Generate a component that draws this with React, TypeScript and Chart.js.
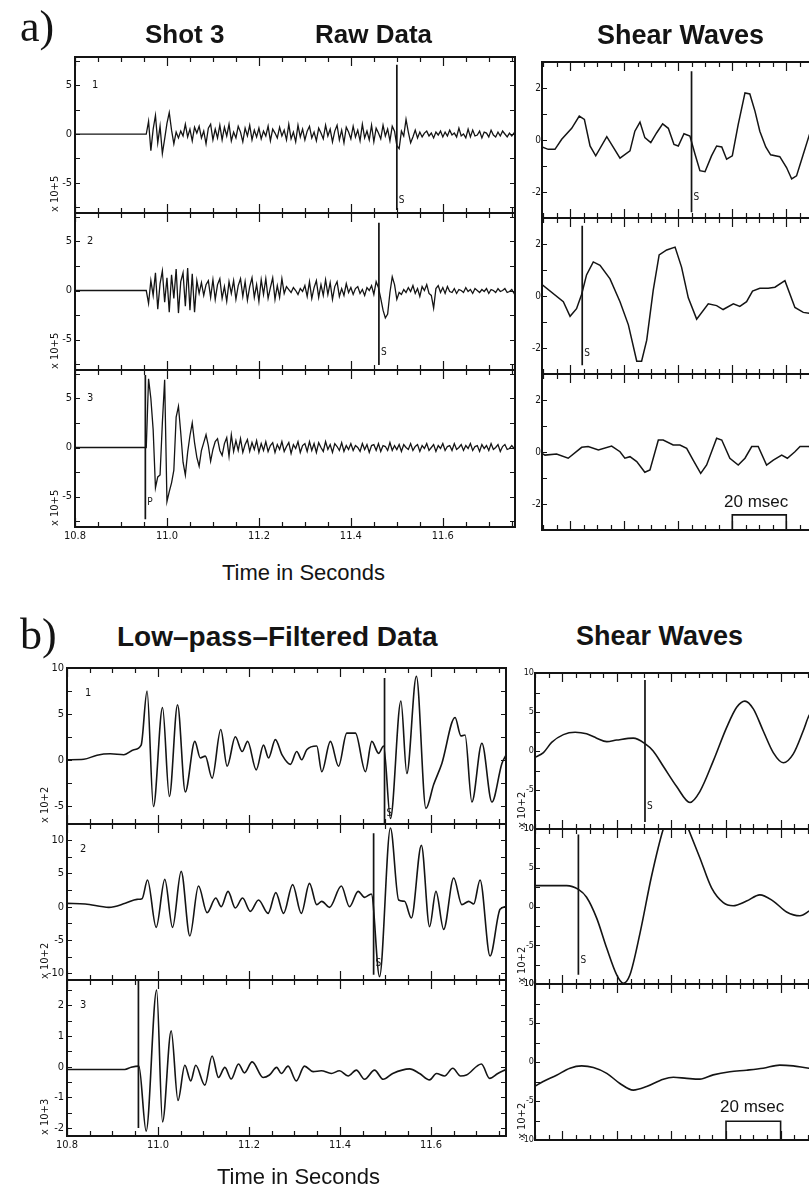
import React, { useEffect, useRef } from 'react';
import { Chart, registerables } from 'chart.js';

Chart.register(...registerables);

const INK = '#141414';
const NARROW = '"Liberation Sans Narrow", "DejaVu Sans Condensed", "Arial Narrow", sans-serif';
const SANS = '"Liberation Sans", Arial, Helvetica, sans-serif';
const SERIF = '"Liberation Serif", "Times New Roman", serif';

// ---------------- data ----------------
const TIME_TICKS = [10.8, 11.0, 11.2, 11.4, 11.6];
const Y_TICKS_RAW = [5, 0, -5];
const Y_TICKS_F1 = [10, 5, 0, -5];
const Y_TICKS_F2 = [10, 5, 0, -5, -10];
const Y_TICKS_F3 = [2, 1, 0, -1, -2];
const Y_TICKS_SA = [2, 0, -2];
const Y_TICKS_SB = [10, 5, 0, -5, -10];

// raw traces (x 10^5), sampled every 5 ms from onset
const RAW_T0 = 10.955;
const RAW_DT = 0.005;
const RAW1 = [
  0, 1.3, -1.7, 0.5, 1.9, -0.9, 0.8, -2.0, -0.5, 1.1,
  2.2, 0.4, -1.0, 0.2, -0.4, 0.3, -0.2, 1.0, -0.3, 0.5,
  -0.7, 0.7, 0.1, 0.8, -0.4, 0.3, -1.0, 0.6, 1.0, -0.6,
  0.5, -0.4, 0.9, -0.6, 0.7, -0.2, 1.0, -0.7, 0.2, -0.4,
  0.8, 0.2, -0.8, 0.6, -0.2, 0.9, -0.6, 0.4, -0.3, 0.6,
  -0.5, 0.3, -0.2, 0.8, -0.7, 0.5, 0.1, -0.4, 0.7, -0.2,
  0.4, -0.6, 1.0, -0.5, 0.2, -0.8, 0.9, -0.3, 0.5, -0.6,
  0.3, 0.8, -0.4, 0.2, -0.7, 0.6, 0.1, -0.5, 0.9, -0.2,
  0.5, -0.8, 0.3, 0.9, -0.6, 0.4, -0.9, 0.7, 0.2, -0.5,
  0.8, -0.3, 0.4, -0.7, 1.0, -0.4, 0.3, -0.6, 0.9, -0.8,
  0.6, 0.1, -0.5, 0.9, -0.2, 0.5, -0.7, 0.8, 0.3, -1.2,
  -1.5, 0.3, -0.2, 1.5, 0.2, -0.9, -0.3, 0.4, -0.4, 0.2,
  -0.3, 0.1, 0.3, -0.2, 0.1, -0.4, 0.2, -0.1, 0.3, -0.3,
  0.2, -0.2, 0.4, -0.1, 0.1, -0.3, 0.6, -0.2, 0.0, -0.4,
  0.5, -0.3, 0.4, -0.2, -0.1, 0.3, -0.4, 0.2, 0.1, -0.3,
  0.4, -0.1, -0.3, 0.2, -0.2, 0.3, 0.0, -0.3, 0.1, -0.2, 0.1, -0.1,
];
const RAW2 = [
  0, -1.3, 1.0, -0.5, 1.8, -1.9, 0.7, 2.0, -1.2, 1.3,
  -2.2, 1.6, -0.8, 2.2, -2.3, 0.9, 1.8, -1.6, 2.3, -2.0,
  1.7, -2.2, 1.0, -0.3, 0.8, -0.5, 0.6, 1.0, -0.7, 1.1,
  -0.9, 0.6, 1.2, -0.8, 0.4, -1.1, 0.9, -0.3, 1.0, -0.9,
  0.5, 1.2, -0.6, 0.9, -1.0, 0.4, 1.3, -0.7, 0.6, -1.1,
  1.1, -0.4, 1.2, -0.8, 0.3, 1.3, -0.9, 0.5, -0.7, 1.2,
  -0.3, 0.4, 0.1, -0.2, 0.3, 0.0, -0.4, 0.2, -0.1, 0.5,
  -0.6, 0.9, -0.8, 0.3, 1.0, -0.7, 0.6, -0.5, 1.1, -0.4,
  0.8, -0.9, 0.4, 0.9, -0.6, 0.2, -0.5, 0.7, -0.2, 0.3,
  -0.4, 0.2, 0.4, -0.3, 0.1, -0.5, 0.3, 0.0, 0.5, -0.4,
  0.9, 0.3, -0.8, -2.0, -2.8, -2.4, -0.2, 1.4, 0.6, -0.9,
  -0.2, -0.4, 0.1, -0.2, 0.3, -0.1, 0.5, -0.3, 0.2, -0.6,
  0.4, 0.0, 0.6, -0.3, -0.5, -1.8, 0.2, 0.5, -0.2, 0.3,
  -0.3, 0.4, -0.1, -0.2, 0.2, -0.3, 0.1, 0.0, -0.2, 0.3,
  -0.1, 0.1, -0.3, 0.2, 0.0, -0.2, 0.1, -0.1, 0.2, -0.3,
  0.1, 0.0, -0.2, 0.2, -0.1, 0.0, 0.2, -0.2, -0.1, 0.1, -0.3, 0.0,
];
const RAW3 = [
  0, 7.0, 5.0, 1.8, -4.1, -3.0, -2.8, 2.5, 6.9, -5.5,
  -4.5, -3.6, -2.3, 3.1, 4.2, 1.5, -1.5, -2.8, -0.5, 1.2,
  2.5, 0.5, -1.0, -1.9, -0.3, 0.5, 1.3, 0.2, -1.4, -0.2,
  0.6, 0.9, -0.3, -0.8, 0.4, 1.0, -0.9, 1.3, -0.4, 0.7,
  -0.3, 0.9, -0.5, 0.3, 0.8, -0.4, 0.5, -0.2, 0.7, -0.5,
  0.4, -0.3, 0.6, -0.4, 0.2, 0.5, -0.5, 0.3, -0.2, 0.6,
  -0.4, 0.1, 0.5, -0.6, 0.3, -0.1, 0.6, -0.5, 0.2, 0.4,
  -0.4, 0.6, -0.3, 0.4, -0.5, 0.5, 0.0, -0.4, 0.6, -0.2,
  0.3, -0.5, 0.4, 0.1, -0.3, 0.5, -0.4, 0.2, -0.2, 0.4,
  -0.3, 0.2, 0.0, -0.4, 0.4, -0.2, 0.3, -0.5, 0.2, 0.3,
  -0.3, 0.4, -0.4, 0.2, 0.1, -0.3, 0.5, -0.3, 0.2, -0.2,
  0.3, -0.4, 0.3, 0.0, -0.2, 0.4, -0.3, 0.1, 0.3, -0.4,
  0.2, -0.1, 0.4, -0.3, 0.0, 0.3, -0.4, 0.2, -0.1, 0.4,
  -0.3, 0.1, 0.2, -0.3, 0.4, -0.2, 0.0, 0.3, -0.3, 0.2,
  -0.1, 0.4, -0.3, 0.1, 0.2, -0.4, 0.3, -0.1, 0.2, -0.3,
  0.4, -0.2, 0.0, 0.3, -0.4, 0.1, 0.3, -0.2, -0.1, 0.2, -0.1, 0.1,
];

// low-pass filtered traces (turning points)
const FILT1_T = [10.800, 10.837, 10.866, 10.895, 10.925, 10.947, 10.963, 10.976, 10.990, 11.010, 11.025, 11.043, 11.060, 11.081, 11.093, 11.104, 11.119, 11.138, 11.152, 11.170, 11.185, 11.197, 11.216, 11.232, 11.243, 11.258, 11.273, 11.291, 11.305, 11.316, 11.327, 11.349, 11.360, 11.379, 11.397, 11.415, 11.434, 11.456, 11.470, 11.485, 11.496, 11.511, 11.534, 11.547, 11.568, 11.589, 11.606, 11.624, 11.653, 11.666, 11.675, 11.690, 11.712, 11.734, 11.756, 11.765];
const FILT1_Y = [0.0, 0.05, 0.5, 0.65, 0.55, 1.1, 1.6, 7.5, -5.1, 5.7, -4.0, 6.0, -3.5, 2.0, 0.2, 0.4, -2.0, 3.3, -0.7, 2.5, 0.9, 2.0, -1.1, 1.6, 0.2, 2.2, 0.5, -0.5, 0.9, 0.0, 1.1, 1.5, -1.3, 2.0, -0.7, 2.9, 2.9, -1.3, 2.0, 0.7, 1.5, -6.4, 6.4, -1.5, 9.1, -5.3, -2.7, -0.4, 4.6, 2.6, 2.7, -4.6, 1.8, -4.6, -0.4, 0.5];
const FILT2_T = [10.800, 10.840, 10.892, 10.928, 10.954, 10.965, 10.977, 10.996, 11.015, 11.032, 11.051, 11.070, 11.089, 11.108, 11.127, 11.139, 11.154, 11.170, 11.186, 11.203, 11.221, 11.242, 11.259, 11.276, 11.296, 11.315, 11.333, 11.349, 11.360, 11.377, 11.403, 11.421, 11.440, 11.454, 11.469, 11.487, 11.511, 11.529, 11.542, 11.557, 11.579, 11.597, 11.611, 11.628, 11.650, 11.668, 11.683, 11.694, 11.708, 11.730, 11.752, 11.765];
const FILT2_Y = [0.5, 0.4, -0.1, 0.5, 1.1, 1.2, 4.0, -3.1, 4.1, -3.1, 5.3, -4.4, 3.1, -0.9, 1.3, 0.0, 2.3, -0.2, 1.3, -0.7, 1.0, -1.0, 2.1, -1.0, 3.3, -1.0, 3.5, 0.3, 0.8, -0.1, 3.1, 0.0, 2.3, 1.4, 1.9, -10.5, 11.8, 1.0, 0.8, -1.7, 9.2, -3.0, 2.3, -3.4, 4.3, 0.3, 0.8, 0.4, 4.0, -7.4, -0.4, 0.0];
const FILT3_T = [10.800, 10.927, 10.941, 10.958, 10.974, 10.997, 11.010, 11.029, 11.044, 11.059, 11.072, 11.083, 11.103, 11.119, 11.133, 11.147, 11.161, 11.177, 11.190, 11.207, 11.231, 11.245, 11.261, 11.271, 11.286, 11.304, 11.322, 11.341, 11.359, 11.381, 11.399, 11.418, 11.436, 11.454, 11.476, 11.495, 11.516, 11.553, 11.575, 11.597, 11.612, 11.630, 11.648, 11.665, 11.678, 11.711, 11.729, 11.747, 11.765];
const FILT3_Y = [-0.09, -0.09, -0.02, 0.02, -2.1, 2.5, -1.8, 1.17, -1.1, 0.05, -0.46, 0.05, -0.6, 0.35, -0.35, -0.02, -0.4, 0.09, -0.2, 0.16, -0.35, -0.27, -0.02, -0.22, 0.02, -0.46, 0.02, -0.16, -0.13, -0.22, -0.13, -0.3, -0.11, -0.41, -0.11, -0.41, -0.22, -0.07, -0.22, -0.43, -0.22, -0.3, -0.05, -0.3, -0.27, 0.09, -0.38, -0.22, -0.09];

// shear-wave windows, raw (ms, x 10^5)
const SA1_T = [9.5, 11.8, 14.3, 16.8, 20.5, 23.3, 25.2, 27.3, 29.4, 33.5, 38.4, 42.1, 43.9, 45.8, 47.6, 49.8, 52.0, 54.2, 56.3, 58.4, 60.0, 62.1, 64.3, 66.2, 68.0, 69.9, 72.3, 74.2, 76.1, 77.9, 80.0, 82.2, 84.7, 86.5, 88.4, 90.2, 92.4, 94.2, 97.6, 100.1, 102.0, 103.8, 106.3, 108.4, 111.0, 114.0, 116.5];
const SA1_Y = [-0.27, -0.36, -0.36, 0.03, 0.45, 0.92, 0.79, -0.23, -0.61, 0.13, -0.70, -0.42, 0.34, 0.69, 0.09, -0.10, 0.28, 0.62, 0.45, -0.17, -0.23, 0.24, 0.15, -0.55, -1.18, -1.22, -0.61, -0.23, -0.27, -0.74, -0.61, 0.60, 1.81, 1.77, 1.11, 0.34, -0.27, -0.57, -0.64, -1.06, -1.50, -1.38, -0.55, 0.15, 1.0, 1.6, 1.7];
const SA2_T = [9.5, 17.4, 19.9, 22.3, 24.2, 26.0, 28.5, 31.0, 34.7, 38.4, 41.5, 44.6, 46.4, 48.3, 50.7, 52.9, 55.7, 58.8, 61.2, 63.7, 66.8, 71.1, 74.2, 76.6, 80.4, 82.8, 85.3, 87.5, 90.2, 93.3, 95.8, 99.5, 103.2, 106.3, 108.4, 112.0, 116.5];
const SA2_Y = [0.44, -0.22, -0.78, -0.49, 0.07, 0.81, 1.31, 1.18, 0.66, -0.22, -1.11, -2.51, -2.51, -1.70, 0.22, 1.58, 1.77, 1.88, 1.11, -0.07, -0.89, -0.30, -0.37, -0.52, -0.30, -0.40, -0.22, 0.19, 0.30, 0.30, 0.34, 0.59, -0.44, -0.63, -0.66, -0.5, -0.2];
const SA3_T = [9.5, 10.6, 14.9, 19.2, 24.2, 26.6, 30.4, 35.3, 38.4, 40.2, 42.1, 44.6, 47.6, 49.5, 52.6, 54.4, 58.1, 60.6, 63.1, 65.5, 68.3, 70.5, 74.2, 76.1, 79.1, 82.2, 84.7, 87.2, 89.6, 92.7, 95.2, 98.3, 100.4, 103.2, 105.1, 108.4, 112.0, 116.5];
const SA3_Y = [-0.05, -0.12, -0.08, -0.24, 0.18, 0.21, 0.08, 0.23, 0.01, -0.24, -0.18, -0.37, -0.78, -0.69, 0.46, 0.46, 0.27, 0.27, 0.14, -0.31, -0.82, -0.50, 0.53, 0.46, -0.24, -0.50, -0.24, 0.21, 0.21, -0.50, -0.31, -0.12, -0.24, 0.01, 0.21, 0.21, 0.0, -0.1];

// shear-wave windows, filtered (ms, x 10^2)
const SB1_T = [10.0, 13.1, 16.1, 20.4, 24.7, 28.9, 32.6, 36.3, 39.9, 46.0, 50.3, 53.3, 57.0, 61.9, 66.8, 70.4, 75.3, 80.2, 83.9, 86.9, 90.0, 93.6, 97.3, 101.0, 104.6, 108.3, 110.4, 113.5, 116.0];
const SB1_Y = [-0.8, -0.2, 1.1, 2.1, 2.4, 2.2, 1.65, 1.2, 1.4, 1.65, 0.95, 0.0, -1.95, -4.55, -6.6, -5.2, -1.3, 3.0, 5.6, 6.4, 5.4, 2.6, -0.2, -1.5, -0.4, 2.6, 4.55, 6.0, 6.5];
const SB2_T = [10.0, 21.6, 25.9, 28.9, 32.6, 36.3, 39.9, 42.3, 44.8, 48.5, 52.7, 57.0, 61.5, 66.2, 70.4, 74.7, 79.0, 82.6, 87.5, 92.4, 97.3, 102.2, 107.1, 110.4, 113.5, 116.0];
const SB2_Y = [2.7, 2.7, 2.2, 1.2, -1.5, -5.4, -8.8, -9.9, -8.8, -3.4, 3.9, 10.0, 14.0, 10.0, 6.3, 2.4, 0.5, 0.1, 0.7, 1.5, 0.7, -0.7, -1.2, -0.6, 0.2, 0.6];
const SB3_T = [10.0, 13.0, 17.9, 22.8, 27.1, 31.4, 36.3, 41.1, 46.0, 50.9, 57.0, 60.7, 65.6, 70.4, 75.3, 81.4, 87.5, 93.6, 99.7, 104.6, 110.4, 116.0];
const SB3_Y = [-3.1, -2.5, -1.7, -0.8, -0.5, -0.7, -1.45, -2.75, -3.6, -3.15, -2.2, -1.95, -2.1, -2.2, -1.65, -1.25, -1.05, -0.8, -0.4, -0.5, -0.8, -0.9];

// picks and scale bar
const S_PICK_RAW = [11.5, 11.461];
const P_PICK_RAW = 10.953;
const S_PICK_FILT = [11.498, 11.474];
const P_PICK_FILT = 10.957;
const S_PICK_SHEAR_A = [64.9, 24.4];
const S_PICK_SHEAR_B = [50.3, 25.9];
const SCALE_BAR_MS = [80, 100];

// ---------------- helpers ----------------
const zip = (t: number[], y: number[]) => t.map((x, i) => ({ x, y: y[i] }));
const sampled = (t0: number, dt: number, ys: number[], start: number) => [
  { x: start, y: 0 },
  ...ys.map((v, i) => ({ x: +(t0 + i * dt).toFixed(4), y: v })),
];

const RAW_X = [10.8, 11.757];
const FILT_X = [10.8, 11.765];
const SA_X = [9.5, 116.2];
const SB_X = [10, 115.9];

const A_L = 75, A_R = 515;
const B_L = 67, B_R = 506;
const SA_L = 542, SA_R = 830;
const SB_L = 535, SB_R = 824;

const PANELS: any[] = [
  { id: 'a1', plot: [A_L, 57, A_R, 213], x: RAW_X, y: [-8.1, 7.9], series: sampled(RAW_T0, RAW_DT, RAW1, 10.8), smooth: false, lw: 1.3,
    yTicks: Y_TICKS_RAW, yMinor: 2.5, xMinor: 0.05, xMajor: 0.2, yPad: 3, yFont: 11,
    marks: [{ t: S_PICK_RAW[0], y0: 7.1, y1: -7.8, label: 'S', labelY: -6.8 }], traceNo: { text: '1', y: 5, dx: 17 }, unit: { text: 'x 10+5', dx: -20 } },
  { id: 'a2', plot: [A_L, 213, A_R, 370], x: RAW_X, y: [-8.1, 7.9], series: sampled(RAW_T0, RAW_DT, RAW2, 10.8), smooth: false, lw: 1.3,
    yTicks: Y_TICKS_RAW, yMinor: 2.5, xMinor: 0.05, xMajor: 0.2, yPad: 3, yFont: 11,
    marks: [{ t: S_PICK_RAW[1], y0: 6.9, y1: -7.6, label: 'S', labelY: -6.3 }], traceNo: { text: '2', y: 5, dx: 12 }, unit: { text: 'x 10+5', dx: -20 } },
  { id: 'a3', plot: [A_L, 370, A_R, 527], x: RAW_X, y: [-8.1, 7.9], series: sampled(RAW_T0, RAW_DT, RAW3, 10.8), smooth: false, lw: 1.3,
    yTicks: Y_TICKS_RAW, yMinor: 2.5, xMinor: 0.05, xMajor: 0.2, yPad: 3, yFont: 11, xTicks: TIME_TICKS,
    marks: [{ t: P_PICK_RAW, y0: 7.4, y1: -7.3, label: 'P', labelY: -5.6 }], traceNo: { text: '3', y: 5, dx: 12 }, unit: { text: 'x 10+5', dx: -20 } },
  { id: 'b1', plot: [B_L, 668, B_R, 824], x: FILT_X, y: [-7, 10], series: zip(FILT1_T, FILT1_Y), smooth: true, lw: 1.6,
    yTicks: Y_TICKS_F1, yMinor: 2.5, xMinor: 0.05, xMajor: 0.2, yPad: 3, yFont: 11,
    marks: [{ t: S_PICK_FILT[0], y0: 8.9, y1: -7, label: 'S', labelY: -5.9 }], traceNo: { text: '1', y: 7.3, dx: 18 }, unit: { text: 'x 10+2', dx: -22 } },
  { id: 'b2', plot: [B_L, 824, B_R, 980], x: FILT_X, y: [-11, 12.4], series: zip(FILT2_T, FILT2_Y), smooth: true, lw: 1.6,
    yTicks: Y_TICKS_F2, yMinor: 2.5, xMinor: 0.05, xMajor: 0.2, yPad: 3, yFont: 11,
    marks: [{ t: S_PICK_FILT[1], y0: 11, y1: -10.2, label: 'S', labelY: -8.5 }], traceNo: { text: '2', y: 8.6, dx: 13 }, unit: { text: 'x 10+2', dx: -22 } },
  { id: 'b3', plot: [B_L, 980, B_R, 1136], x: FILT_X, y: [-2.26, 2.83], series: zip(FILT3_T, FILT3_Y), smooth: true, lw: 1.6,
    yTicks: Y_TICKS_F3, yMinor: 0.5, xMinor: 0.05, xMajor: 0.2, yPad: 3, yFont: 11, xTicks: TIME_TICKS,
    marks: [{ t: P_PICK_FILT, y0: 2.83, y1: -2.0 }], traceNo: { text: '3', y: 2, dx: 13 }, unit: { text: 'x 10+3', dx: -22 } },
  { id: 'ra1', plot: [SA_L, 62, SA_R, 218], x: SA_X, y: [-3, 3], series: zip(SA1_T, SA1_Y), smooth: false, lw: 1.5,
    yTicks: Y_TICKS_SA, yMinor: 1, xMinor: 5, xMajor: 20, yPad: 1, yFont: 10,
    marks: [{ t: S_PICK_SHEAR_A[0], y0: 2.64, y1: -2.78, label: 'S', labelY: -2.2 }] },
  { id: 'ra2', plot: [SA_L, 218, SA_R, 374], x: SA_X, y: [-3, 3], series: zip(SA2_T, SA2_Y), smooth: false, lw: 1.5,
    yTicks: Y_TICKS_SA, yMinor: 1, xMinor: 5, xMajor: 20, yPad: 1, yFont: 10,
    marks: [{ t: S_PICK_SHEAR_A[1], y0: 2.7, y1: -2.66, label: 'S', labelY: -2.2 }] },
  { id: 'ra3', plot: [SA_L, 374, SA_R, 530], x: SA_X, y: [-3, 3], series: zip(SA3_T, SA3_Y), smooth: false, lw: 1.5,
    yTicks: Y_TICKS_SA, yMinor: 1, xMinor: 5, xMajor: 20, yPad: 1, yFont: 10,
    marks: [], bracket: { t: SCALE_BAR_MS, hi: -2.42, lo: -3 } },
  { id: 'rb1', plot: [SB_L, 673, SB_R, 829], x: SB_X, y: [-10, 10], series: zip(SB1_T, SB1_Y), smooth: true, lw: 1.6,
    yTicks: Y_TICKS_SB, yMinor: 2.5, xMinor: 5, xMajor: 20, yPad: 1, yFont: 9,
    marks: [{ t: S_PICK_SHEAR_B[0], y0: 9.1, y1: -9.1, label: 'S', labelY: -7.1 }], unit: { text: 'x 10+2', dx: -13 } },
  { id: 'rb2', plot: [SB_L, 829, SB_R, 984], x: SB_X, y: [-10, 10], series: zip(SB2_T, SB2_Y), smooth: true, lw: 1.6,
    yTicks: Y_TICKS_SB, yMinor: 2.5, xMinor: 5, xMajor: 20, yPad: 1, yFont: 9,
    marks: [{ t: S_PICK_SHEAR_B[1], y0: 9.3, y1: -8.8, label: 'S', labelY: -7 }], unit: { text: 'x 10+2', dx: -13 } },
  { id: 'rb3', plot: [SB_L, 984, SB_R, 1140], x: SB_X, y: [-10, 10], series: zip(SB3_T, SB3_Y), smooth: true, lw: 1.6,
    yTicks: Y_TICKS_SB, yMinor: 2.5, xMinor: 5, xMajor: 20, yPad: 1, yFont: 9,
    marks: [], bracket: { t: SCALE_BAR_MS, hi: -7.6, lo: -10 }, unit: { text: 'x 10+2', dx: -13 } },
];

// ---------------- plugin: frame, inward ticks, annotations ----------------
const framePlugin = {
  id: 'frame',
  afterDatasetsDraw(chart: any, _args: any, o: any) {
    const { ctx, chartArea: a } = chart;
    const xs = chart.scales.x;
    const ys = chart.scales.y;
    ctx.save();
    ctx.strokeStyle = INK;
    ctx.fillStyle = INK;
    ctx.lineWidth = 1.2;
    ctx.beginPath();
    const ratio = Math.round(o.xMajor / o.xMinor);
    const i0 = Math.ceil(xs.min / o.xMinor - 1e-6);
    for (let i = i0; i * o.xMinor <= xs.max + 1e-9; i++) {
      const px = Math.round(xs.getPixelForValue(i * o.xMinor)) + 0.5;
      const len = i % ratio === 0 ? 9 : 5;
      ctx.moveTo(px, a.top);
      ctx.lineTo(px, a.top + len);
      ctx.moveTo(px, a.bottom);
      ctx.lineTo(px, a.bottom - len);
    }
    const j0 = Math.ceil(ys.min / o.yMinor - 1e-6);
    for (let j = j0; j * o.yMinor <= ys.max + 1e-9; j++) {
      const py = Math.round(ys.getPixelForValue(j * o.yMinor)) + 0.5;
      ctx.moveTo(a.left, py);
      ctx.lineTo(a.left + 5, py);
      ctx.moveTo(a.right, py);
      ctx.lineTo(a.right - 5, py);
    }
    ctx.stroke();
    ctx.lineWidth = 2;
    ctx.strokeRect(a.left, a.top, a.right - a.left, a.bottom - a.top);

    ctx.textAlign = 'left';
    ctx.textBaseline = 'middle';
    ctx.font = `10px ${NARROW}`;
    for (const m of o.marks || []) {
      if (m.label) ctx.fillText(m.label, xs.getPixelForValue(m.t) + 2, ys.getPixelForValue(m.labelY));
    }
    if (o.traceNo) {
      ctx.font = `11px ${NARROW}`;
      ctx.fillText(o.traceNo.text, a.left + o.traceNo.dx, ys.getPixelForValue(o.traceNo.y));
    }
    if (o.unit) {
      ctx.save();
      ctx.translate(a.left + o.unit.dx, a.bottom - 1);
      ctx.rotate(-Math.PI / 2);
      ctx.font = `11px ${NARROW}`;
      ctx.fillText(o.unit.text, 0, 0);
      ctx.restore();
    }
    ctx.restore();
  },
};

const PAD_L = 50, PAD_T = 12, PAD_R = 12, PAD_B = 12, X_AXIS_H = 22;

function Panel({ cfg }: { cfg: any }) {
  const ref = useRef<HTMLCanvasElement | null>(null);
  const [l, t, r, b] = cfg.plot;
  const hasX = !!cfg.xTicks;
  const w = r - l + PAD_L + PAD_R;
  const h = b - t + PAD_T + (hasX ? X_AXIS_H + 6 : PAD_B);

  useEffect(() => {
    const datasets: any[] = [
      {
        data: cfg.series,
        borderColor: INK,
        borderWidth: cfg.lw,
        pointRadius: 0,
        fill: false,
        clip: 0,
        tension: 0,
        cubicInterpolationMode: cfg.smooth ? 'monotone' : 'default',
      },
      ...cfg.marks.map((m: any) => ({
        data: [{ x: m.t, y: m.y0 }, { x: m.t, y: m.y1 }],
        borderColor: INK,
        borderWidth: 1.7,
        pointRadius: 0,
        clip: 0,
      })),
    ];
    if (cfg.bracket) {
      const [t0, t1] = cfg.bracket.t;
      datasets.push({
        data: [
          { x: t0, y: cfg.bracket.lo },
          { x: t0, y: cfg.bracket.hi },
          { x: t1, y: cfg.bracket.hi },
          { x: t1, y: cfg.bracket.lo },
        ],
        borderColor: INK,
        borderWidth: 1.6,
        pointRadius: 0,
        clip: 0,
      });
    }
    const chart = new Chart(ref.current as HTMLCanvasElement, {
      type: 'line',
      data: { datasets },
      options: {
        responsive: false,
        animation: false,
        devicePixelRatio: 1,
        events: [],
        layout: { padding: { left: 0, top: PAD_T, right: PAD_R, bottom: hasX ? 6 : PAD_B } },
        plugins: {
          legend: { display: false },
          tooltip: { enabled: false },
          frame: {
            xMinor: cfg.xMinor,
            xMajor: cfg.xMajor,
            yMinor: cfg.yMinor,
            marks: cfg.marks,
            traceNo: cfg.traceNo,
            unit: cfg.unit,
          },
        },
        scales: {
          x: {
            type: 'linear',
            min: cfg.x[0],
            max: cfg.x[1],
            display: hasX,
            grid: { display: false, drawTicks: false },
            border: { display: false },
            ticks: {
              color: INK,
              font: { family: NARROW, size: 11 },
              padding: 3,
              maxRotation: 0,
              autoSkip: false,
              callback: (v: any) => Number(v).toFixed(1),
            },
            afterBuildTicks: (s: any) => {
              s.ticks = (cfg.xTicks || []).map((v: number) => ({ value: v }));
            },
            afterFit: (s: any) => {
              s.height = hasX ? X_AXIS_H : 0;
            },
          },
          y: {
            type: 'linear',
            min: cfg.y[0],
            max: cfg.y[1],
            grid: { display: false, drawTicks: false },
            border: { display: false },
            ticks: {
              color: INK,
              font: { family: NARROW, size: cfg.yFont },
              padding: cfg.yPad,
              autoSkip: false,
              callback: (v: any) => String(v),
            },
            afterBuildTicks: (s: any) => {
              s.ticks = cfg.yTicks.map((v: number) => ({ value: v }));
            },
            afterFit: (s: any) => {
              s.width = PAD_L;
            },
          },
        },
      } as any,
      plugins: [framePlugin as any],
    });
    return () => chart.destroy();
  }, [cfg]);

  return (
    <canvas
      ref={ref}
      width={w}
      height={h}
      style={{ position: 'absolute', left: l - PAD_L, top: t - PAD_T, width: w, height: h }}
    />
  );
}

const txt = (left: number, top: number, size: number, family: string, weight: any = 'normal'): any => ({
  position: 'absolute',
  left,
  top,
  fontSize: size,
  fontFamily: family,
  fontWeight: weight,
  lineHeight: 1,
  whiteSpace: 'nowrap',
  color: INK,
});

export default function App() {
  return (
    <div style={{ position: 'relative', width: 809, height: 1193, overflow: 'hidden', background: '#fff' }}>
      <style>{'html,body{margin:0;padding:0;background:#fff;overflow:hidden}'}</style>
      {PANELS.map((p) => (
        <Panel key={p.id} cfg={p} />
      ))}
      <div style={txt(20, 5, 44, SERIF)}>a)</div>
      <div style={txt(145, 21, 26, SANS, 'bold')}>Shot 3</div>
      <div style={txt(315, 21, 26, SANS, 'bold')}>Raw Data</div>
      <div style={txt(597, 22, 27, SANS, 'bold')}>Shear Waves</div>
      <div style={txt(222, 562, 22, SANS)}>Time in Seconds</div>
      <div style={txt(724, 493, 17, SANS)}>20 msec</div>

      <div style={txt(20, 613, 44, SERIF)}>b)</div>
      <div style={txt(117, 623, 28, SANS, 'bold')}>Low–pass–Filtered Data</div>
      <div style={txt(576, 623, 27, SANS, 'bold')}>Shear Waves</div>
      <div style={txt(217, 1166, 22, SANS)}>Time in Seconds</div>
      <div style={txt(720, 1098, 17, SANS)}>20 msec</div>
    </div>
  );
}
